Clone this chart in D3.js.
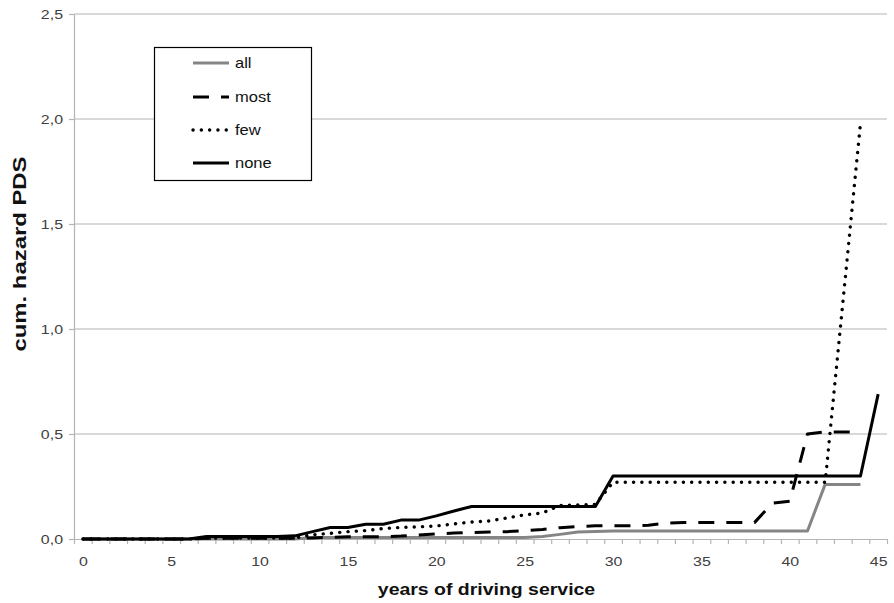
<!DOCTYPE html>
<html>
<head>
<meta charset="utf-8">
<script src="https://cdn.jsdelivr.net/npm/d3@7"></script>
<style>
  body { margin: 0; background: #fff; }
  svg { display: block; font-family: "Liberation Sans", Arial, sans-serif; }
</style>
</head>
<body>
<svg id="chart" width="894" height="603"></svg>
<script>
// Years of driving service (category axis)
const years = [0,1,2,3,4,5,6,7,8,9,10,11,12,13,14,15,16,17,18,19,20,21,22,23,24,25,26,27,28,29,30,31,32,33,34,35,36,37,38,39,40,41,42,43,44,45];

// Cumulative hazard of PDS per group (null = no value for that year)
const allValues  = [0,0,0,0,0,0,0,0,0,0,0,0,0,0.007,0.007,0.007,0.007,0.007,0.007,0.007,0.007,0.007,0.007,0.007,0.007,0.007,0.012,0.022,0.033,0.036,0.038,0.038,0.038,0.038,0.038,0.038,0.038,0.038,0.038,0.038,0.038,0.038,0.26,0.26,0.26,null];
const mostValues = [0,0,0,0,0,0,0,0.004,0.004,0.004,0.004,0.004,0.004,0.005,0.008,0.011,0.011,0.011,0.014,0.019,0.024,0.028,0.031,0.033,0.035,0.04,0.045,0.054,0.059,0.063,0.063,0.063,0.065,0.076,0.078,0.078,0.078,0.078,0.078,0.17,0.18,0.5,0.51,0.51,0.51,null];
const fewValues  = [0,0,0,0,0,0,0,0.005,0.005,0.005,0.005,0.005,0.005,0.02,0.027,0.035,0.04,0.05,0.055,0.058,0.062,0.072,0.081,0.086,0.1,0.115,0.124,0.16,0.162,0.165,0.27,0.27,0.27,0.27,0.27,0.27,0.27,0.27,0.27,0.27,0.27,0.27,0.27,null,1.98,null];
const noneValues = [0,0,0,0,0,0,0,0.012,0.012,0.012,0.012,0.012,0.015,0.035,0.055,0.055,0.07,0.07,0.09,0.09,0.11,0.133,0.155,0.155,0.155,0.155,0.155,0.155,0.155,0.155,0.3,0.3,0.3,0.3,0.3,0.3,0.3,0.3,0.3,0.3,0.3,0.3,0.3,0.3,0.3,0.69];

const seriesNames = ["all", "most", "few", "none"];
const yTickValues = [0, 0.5, 1, 1.5, 2, 2.5];
const xLabelValues = [0, 5, 10, 15, 20, 25, 30, 35, 40, 45];

const series = [
  { name: seriesNames[0], values: allValues,  color: "#858585", dash: null,       cap: "butt"  },
  { name: seriesNames[1], values: mostValues, color: "#000",    dash: "16,12",    cap: "butt"  },
  { name: seriesNames[2], values: fewValues,  color: "#000",    dash: "0.1,8.2",  cap: "round" },
  { name: seriesNames[3], values: noneValues, color: "#000",    dash: null,       cap: "butt"  }
];

const svg = d3.select("#chart");
const plot = { left: 74, right: 887, top: 14, bottom: 539 };
const sx = 1.18;          // horizontal glyph stretch used for all text
const gridColor = "#b4b4b4";
const labelColor = "#404040";

// Categories are centred in equal bands; tick marks sit on band edges
const x = d3.scaleLinear().domain([-0.5, 45.5]).range([plot.left, plot.right]);
const y = d3.scaleLinear().domain([0, 2.5]).range([plot.bottom, plot.top]);

// Horizontal gridlines
svg.append("g")
  .selectAll("line")
  .data(yTickValues.filter(d => d > 0))
  .join("line")
  .attr("x1", plot.left).attr("x2", plot.right)
  .attr("y1", d => y(d)).attr("y2", d => y(d))
  .attr("stroke", gridColor).attr("stroke-width", 1.2);

// Y axis
const fmt = d => d3.format(".1f")(d).replace(".", ",");
const yAxis = svg.append("g")
  .attr("transform", `translate(${plot.left},0)`)
  .call(d3.axisLeft(y).tickValues(yTickValues).tickSize(5).tickSizeOuter(0).tickFormat(fmt));
yAxis.select(".domain").attr("stroke", gridColor).attr("stroke-width", 1.2);
yAxis.selectAll(".tick line").attr("stroke", gridColor).attr("stroke-width", 1.2);
yAxis.selectAll(".tick text")
  .attr("x", null).attr("dy", "0.34em")
  .attr("transform", `translate(-11,0) scale(${sx},1)`)
  .attr("text-anchor", "end")
  .attr("fill", labelColor)
  .style("font-size", "13.5px");

// X axis: tick marks between categories
const xTickEdges = years.map(d => d - 0.5).concat([years[years.length - 1] + 0.5]);
const xAxis = svg.append("g")
  .attr("transform", `translate(0,${plot.bottom})`)
  .call(d3.axisBottom(x).tickValues(xTickEdges).tickSize(5).tickSizeOuter(0).tickFormat(""));
xAxis.select(".domain").attr("stroke", gridColor).attr("stroke-width", 1.2);
xAxis.selectAll(".tick line").attr("stroke", gridColor).attr("stroke-width", 1.2);

// X axis labels, centred under their categories
const xLab = svg.append("g")
  .attr("transform", `translate(0,${plot.bottom})`)
  .call(d3.axisBottom(x).tickValues(xLabelValues).tickSize(0).tickFormat(d3.format("d")));
xLab.select(".domain").remove();
xLab.selectAll(".tick text")
  .attr("y", null).attr("dy", "0.35em")
  .attr("transform", `translate(0,22) scale(${sx},1)`)
  .attr("fill", labelColor)
  .style("font-size", "13.5px");

// Series lines
const line = d3.line()
  .x(d => x(d.year))
  .y(d => y(d.v));

svg.append("g")
  .selectAll("path")
  .data(series)
  .join("path")
  .attr("d", s => line(years.map((yr, i) => ({ year: yr, v: s.values[i] })).filter(d => d.v != null)))
  .attr("fill", "none")
  .attr("stroke", s => s.color)
  .attr("stroke-width", s => s.name === "few" ? 3.4 : 3)
  .attr("stroke-dasharray", s => s.dash)
  .attr("stroke-linecap", s => s.cap)
  .attr("stroke-linejoin", "round");

// Legend
const legend = svg.append("g");
legend.append("rect")
  .attr("x", 154.5).attr("y", 47.5).attr("width", 157).attr("height", 133)
  .attr("fill", "#fff").attr("stroke", "#000").attr("stroke-width", 1.2);
const rowY = [63, 97, 130, 163];
const item = legend.selectAll("g.item")
  .data(series)
  .join("g")
  .attr("class", "item")
  .attr("transform", (d, i) => `translate(0,${rowY[i]})`);
item.append("line")
  .attr("x1", 193).attr("x2", 229).attr("y1", 0).attr("y2", 0)
  .attr("stroke", d => d.color)
  .attr("stroke-width", d => d.name === "few" ? 3.4 : 3)
  .attr("stroke-dasharray", d => d.dash)
  .attr("stroke-linecap", d => d.cap);
item.append("text")
  .attr("transform", `translate(235,0) scale(${sx},1)`)
  .attr("dy", "0.35em")
  .attr("fill", "#111")
  .style("font-size", "14px")
  .text(d => d.name);

// Axis titles
svg.append("text")
  .attr("transform", `translate(${(plot.left + plot.right) / 2 + 6},595) scale(${sx},1)`)
  .attr("text-anchor", "middle")
  .style("font-size", "16.5px").style("font-weight", "bold")
  .attr("fill", "#111")
  .text("years of driving service");

svg.append("text")
  .attr("transform", "translate(26,254) rotate(-90)")
  .attr("text-anchor", "middle")
  .attr("textLength", 195)
  .attr("lengthAdjust", "spacingAndGlyphs")
  .style("font-size", "17.5px").style("font-weight", "bold")
  .attr("fill", "#111")
  .text("cum. hazard PDS");
</script>
</body>
</html>
